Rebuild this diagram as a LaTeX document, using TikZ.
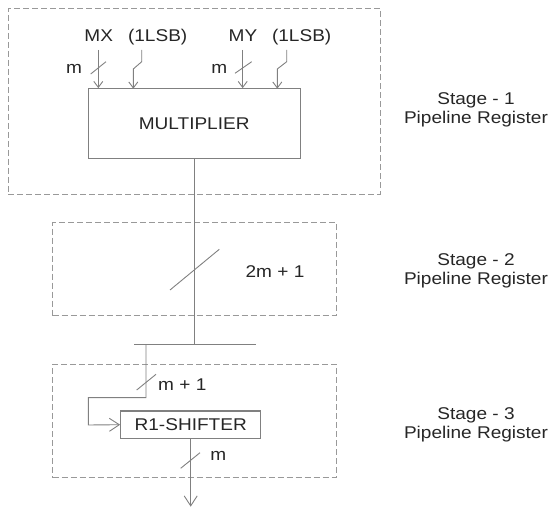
\documentclass[tikz,border=0pt]{standalone}
\usepackage{fontspec}
\setmainfont{Liberation Sans}[FakeStretch=1.12]
\usetikzlibrary{arrows.meta}

\begin{document}
\begin{tikzpicture}[x=1pt,y=-1pt,
    wire/.style={draw=black!50, line width=0.9pt},
    stagebox/.style={draw=black!40, line width=0.9pt, dash pattern=on 6pt off 3pt, minimum width=#1, inner sep=0},
    block/.style={draw=black!50, line width=1.1pt, inner sep=0, font=\fontsize{17}{19}\selectfont, text=black!85},
    lbl/.style={font=\fontsize{17}{19}\selectfont, text=black!85, inner sep=0},
    inarr/.style={wire, -{Straight Barb[length=6pt,width=9pt]}},
    outarr/.style={wire, -{Straight Barb[length=10pt,width=13pt]}}]
        \useasboundingbox (0,0) rectangle (550,508);
        % stages
        \node[stagebox=371.7, minimum height=186] (stage1) at (194.2,101.3) {};
        \node[stagebox=283.3, minimum height=93.3] (stage2) at (194.3,269.3) {};
        \node[stagebox=283.3, minimum height=113.4] (stage3) at (194.3,421) {};
        \node[lbl, align=center] (st1) at (476,109.6) {Stage - 1\\Pipeline Register};
        \node[lbl, align=center] (st2) at (476,271.3) {Stage - 2\\Pipeline Register};
        \node[lbl, align=center] (st3) at (476,424.6) {Stage - 3\\Pipeline Register};
        % blocks
        \node[block, minimum width=211.7, minimum height=69.6] (mult) at (194.2,123.5) {MULTIPLIER};
        \node[block, minimum width=140, minimum height=27.3] (shift) at (190.7,424.7) {R1-SHIFTER};
        % inputs
        \node[lbl, anchor=base] (mx) at (98.7,42) {MX};
        \node[lbl, anchor=base] (lsbx) at (157.7,42) {(1LSB)};
        \node[lbl, anchor=base] (my) at (243,42) {MY};
        \node[lbl, anchor=base] (lsby) at (301.7,42) {(1LSB)};
        \node[lbl] (mxw) at (74,69) {m};
        \node[lbl] (myw) at (219.3,69) {m};
        \coordinate (mxin) at (98.3,50);
        \coordinate (myin) at (242.7,50);
        \draw[inarr] (mxin) -- (mxin |- mult.north);
        \draw[inarr] (myin) -- (myin |- mult.north);
        \draw[wire] (90.7,74) -- (106,61.7) (235,73.3) -- (251.7,61.7);
        \draw[inarr] (141.7,50) -- (141.7,61.7) -- (133.3,69) -- (133.3,88.7);
        \draw[inarr] (286.7,50) -- (286.7,61.7) -- (277.3,69) -- (277.3,88.7);
        % product bus
        \coordinate (bus) at (mult.south |- 0,344.3);
        \coordinate (busl) at (134,344.3);
        \coordinate (busr) at (255.7,344.3);
        \draw[wire] (mult.south) -- (bus);
        \draw[wire] (busl) -- (busr);
        \draw[wire] (170,290) -- (219.3,249.3);
        \node[lbl] (pw) at (275,271.7) {2m + 1};
        % shifter
        \coordinate (tap) at (146,344.3);
        \draw[outarr] (tap) -- (146,397.7) -- (88.3,397.7) -- (88.3,425) -- (shift.west);
        \draw[wire] (136.7,390) -- (156,374.3);
        \node[lbl] (sw) at (182.3,384.3) {m + 1};
        \coordinate (out) at (shift.south |- 0,506.7);
        \draw[outarr] (shift.south) -- (out);
        \draw[wire] (180.7,468.3) -- (200,452.7);
        \node[lbl] (ow) at (218.3,456) {m};
      \end{tikzpicture}
\end{document}
